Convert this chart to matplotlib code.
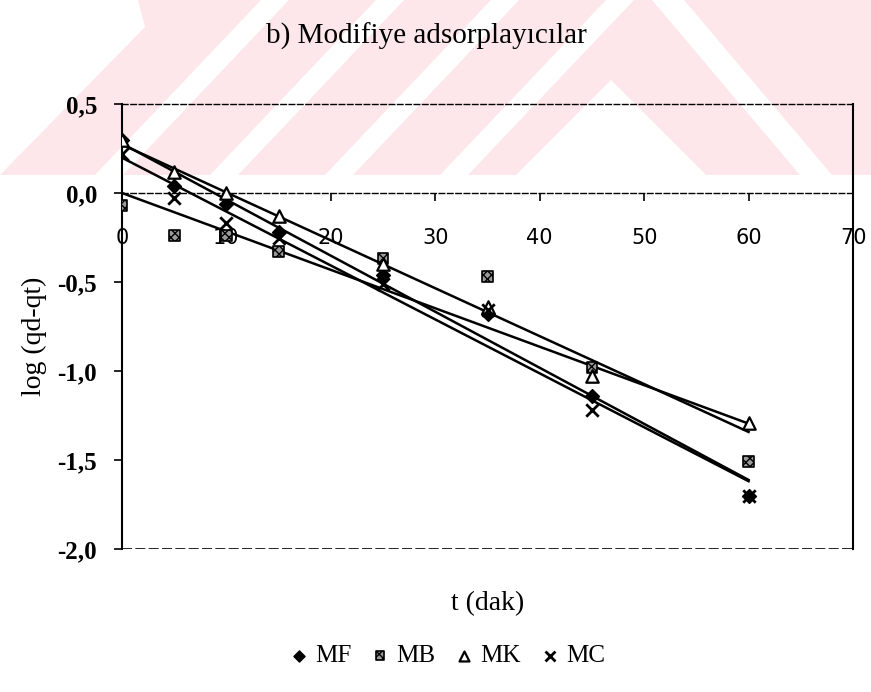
import numpy as np
import matplotlib
matplotlib.use("Agg")
import matplotlib.pyplot as plt
from matplotlib.patches import Polygon, Rectangle
from matplotlib.ticker import FuncFormatter

# data
t = [0, 5, 10, 15, 25, 35, 45, 60]
mf = [0.30, 0.04, -0.06, -0.22, -0.46, -0.68, -1.14, -1.70]
mb = [-0.07, -0.24, -0.24, -0.33, -0.37, -0.47, -0.98, -1.51]
mk = [0.30, 0.12, 0.00, -0.13, -0.40, -0.64, -1.03, -1.29]
mc = [0.22, -0.03, -0.17, -0.25, -0.51, -0.66, -1.22, -1.70]
names = ["MF", "MB", "MK", "MC"]

serif = "Liberation Serif"

fig = plt.figure(figsize=(8.71, 6.92), dpi=100)

# pink watermark band behind the top of the page (pixel coords)
bg = fig.add_axes([0, 0, 1, 1], zorder=-1)
bg.set_xlim(0, 871)
bg.set_ylim(692, 0)
bg.axis("off")
pink = "#fde7eb"
yb = 175
bg.add_patch(Rectangle((0, 0), 871, yb, color=pink, lw=0))
# narrow "/" white stripes on the left
for x0 in [95, 210, 325, 440]:
    x1 = x0 + 28
    bg.add_patch(Polygon([(x0, yb), (x1, yb), (x1 + 166, 0), (x0 + 166, 0)], color="white", lw=0))
bg.add_patch(Polygon([(0, 0), (138, 0), (145, 27), (0, 175)], color="white", lw=0))
# white peak and "\" stripe on the right
bg.add_patch(Polygon([(611, 80), (516, yb), (706, yb)], color="white", lw=0))
bg.add_patch(Polygon([(652, 0), (684, 0), (832, yb), (800, yb)], color="white", lw=0))

ax = fig.add_axes([122 / 871, 1 - 549 / 692, (853 - 122) / 871, (549 - 104) / 692])
ax.set_facecolor("none")

ax.set_xlim(0, 70)
ax.set_ylim(-2.0, 0.5)

# linear trendlines for each series
tt = np.array(t, dtype=float)
for ys in [mf, mb, mk, mc]:
    k, c = np.polyfit(tt, ys, 1)
    ax.plot([0, 60], [c, c + 60 * k], color="black", lw=1.8, zorder=2)

h1 = ax.scatter(t, mf, marker="D", s=50, color="black", zorder=3)
h2 = ax.scatter(t, mb, marker="s", s=60, facecolor="#9a9a9a", edgecolor="black",
                hatch="xxxx", lw=1.2, zorder=3)
h3 = ax.scatter(t, mk, marker="^", s=80, facecolor="white", edgecolor="black", lw=1.6, zorder=4)
h4 = ax.scatter(t, mc, marker="x", s=80, color="black", lw=2, zorder=4)

# axes look
ax.spines["bottom"].set_position(("data", 0))
ax.spines["bottom"].set_linestyle((0, (4, 2)))
ax.spines["bottom"].set_linewidth(1)
ax.spines["top"].set_linestyle((0, (4, 2)))
ax.spines["top"].set_linewidth(1)
ax.spines["left"].set_linewidth(1.5)
ax.spines["right"].set_linewidth(1.5)
ax.axhline(-2.0, color="black", lw=1.2, ls=(0, (6, 2)), zorder=1)

ax.set_xticks(np.arange(0, 71, 10))
ax.set_yticks(np.arange(-2.0, 0.51, 0.5))
ax.yaxis.set_major_formatter(FuncFormatter(lambda v, p: f"{v:.1f}".replace(".", ",")))
ax.tick_params(axis="x", direction="out", length=6, width=1.2, pad=19, labelsize=15)
ax.tick_params(axis="y", direction="out", length=6, width=1.2, pad=12, labelsize=18)
for lab in ax.get_yticklabels():
    lab.set_fontfamily(serif)
    lab.set_fontweight("bold")
for lab in ax.get_xticklabels():
    lab.set_fontfamily("DejaVu Sans")

fig.text(426 / 871, 1 - 36 / 692, "b) Modifiye adsorplayıcılar", ha="center", va="center",
         fontsize=21, family=serif)
fig.text(488 / 871, 1 - 604 / 692, "t (dak)", ha="center", va="center", fontsize=20, family=serif)
fig.text(34 / 871, 1 - 336 / 692, "log (qd-qt)", ha="center", va="center", rotation=90,
         fontsize=20, family=serif)

fig.legend([h1, h2, h3, h4], names, loc="center", bbox_to_anchor=(446 / 871, 1 - 656 / 692),
           ncol=4, frameon=False, handletextpad=0.2, columnspacing=0.7, handlelength=0.9,
           markerscale=0.8, prop={"family": serif, "size": 18})

fig.savefig("out.png", dpi=100)
